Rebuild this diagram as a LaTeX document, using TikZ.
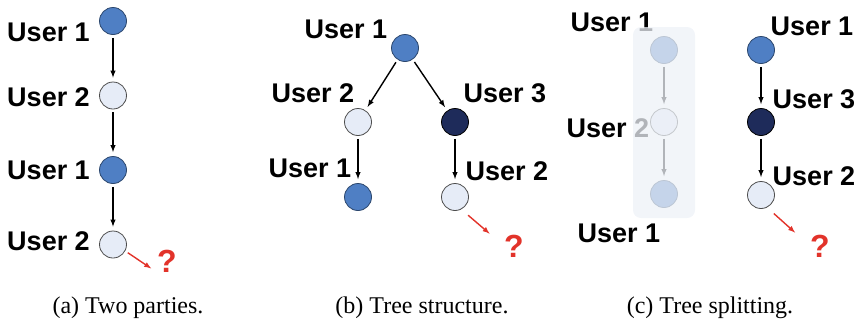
\documentclass[tikz,border=0pt]{standalone}
\usepackage{fontspec}
\setmainfont{Liberation Serif}
\setsansfont{Liberation Sans}
\usepackage{tikz}
\usetikzlibrary{positioning}

\definecolor{userblue}{HTML}{4F7FC4}
\definecolor{userlight}{HTML}{E6ECF7}
\definecolor{userdark}{HTML}{1E2B5A}
\definecolor{guessred}{HTML}{E2332A}
\definecolor{fadebox}{HTML}{EDF1F7}

\tikzset{
  user/.style={circle, draw=black!70, line width=0.8pt, minimum size=27pt, inner sep=0pt},
  ublue/.style={user, fill=userblue, draw=userblue!55!black},
  ulight/.style={user, fill=userlight},
  udark/.style={user, fill=userdark, draw=black},
  who/.style={font=\sffamily\bfseries\fontsize{27}{30}\selectfont, inner sep=0pt},
  link/.style={->, line width=1.4pt, shorten <=3pt, shorten >=4pt},
  guess/.style={->, guessred, line width=1.4pt},
  qmark/.style={text=guessred, font=\sffamily\bfseries\fontsize{32}{34}\selectfont, inner sep=0pt},
  subcap/.style={font=\fontsize{24}{26}\selectfont, inner sep=0pt},
}

\begin{document}
\begin{tikzpicture}[x=1pt, y=-1pt, >=latex]
\useasboundingbox (0,0) rectangle (861,322);

% (a) two parties
\node[ublue] (a1) at (113,21) {};
\node[ulight, below of=a1, node distance=74.5pt] (a2) {};
\node[ublue, below of=a2, node distance=74.5pt] (a3) {};
\node[ulight, below of=a3, node distance=74.5pt] (a4) {};
\node[who, anchor=east] (la1) at (90,32) {User 1};
\node[who, anchor=east] (la2) at (90,97) {User 2};
\node[who, anchor=east] (la3) at (90,170) {User 1};
\node[who, anchor=east] (la4) at (90,241) {User 2};
\draw[link] (a1) -- (a2);
\draw[link] (a2) -- (a3);
\draw[link] (a3) -- (a4);
\node[qmark] (qa) at (167,261) {?};
\draw[guess, shorten <=3pt, shorten >=7pt] (a4.-28) -- (qa.south west);

% (b) tree structure
\node[ublue] (b1) at (405,48) {};
\node[ulight] (b2) at (358,122) {};
\node[udark] (b3) at (455,122) {};
\node[ublue, below of=b2, node distance=75pt] (b4) {};
\node[ulight, below of=b3, node distance=75pt] (b5) {};
\node[who] (lb1) at (346,29) {User 1};
\node[who] (lb2) at (313,93) {User 2};
\node[who] (lb3) at (505,93) {User 3};
\node[who] (lb4) at (310,168) {User 1};
\node[who] (lb5) at (507,171) {User 2};
\draw[link] (b1) -- (b2);
\draw[link] (b1) -- (b3);
\draw[link] (b2) -- (b4);
\draw[link] (b3) -- (b5);
\node[qmark] (qb) at (514,246) {?};
\draw[guess, shorten <=9pt, shorten >=19pt] (b5.-63) -- (qb.west);

% (c) tree splitting, left part faded out
\node[ublue] (c1) at (664,50) {};
\node[ulight, below of=c1, node distance=72pt] (c2) {};
\node[ublue, below of=c2, node distance=72pt] (c3) {};
\node[who] (lc1) at (612,22) {User 1};
\node[who] (lc2) at (608,128) {User 2};
\node[who] (lc3) at (619,233) {User 1};
\draw[link] (c1) -- (c2);
\draw[link] (c2) -- (c3);
\fill[fadebox, fill opacity=0.75, rounded corners=8pt] (633,27) rectangle (695,218);

\node[ublue] (d1) at (761,50) {};
\node[udark, below of=d1, node distance=72pt] (d2) {};
\node[ulight, below of=d2, node distance=73pt] (d3) {};
\node[who] (ld1) at (812,26) {User 1};
\node[who] (ld2) at (814,99) {User 3};
\node[who] (ld3) at (814,176) {User 2};
\draw[link] (d1) -- (d2);
\draw[link] (d2) -- (d3);
\node[qmark] (qc) at (820,246) {?};
\draw[guess, shorten <=9pt, shorten >=20pt] (d3.-64) -- (qc.west);

% captions
\node[subcap] (capa) at (128,308) {(a) Two parties.};
\node[subcap] (capb) at (422,308) {(b) Tree structure.};
\node[subcap] (capc) at (710,308) {(c) Tree splitting.};
\end{tikzpicture}
\end{document}
